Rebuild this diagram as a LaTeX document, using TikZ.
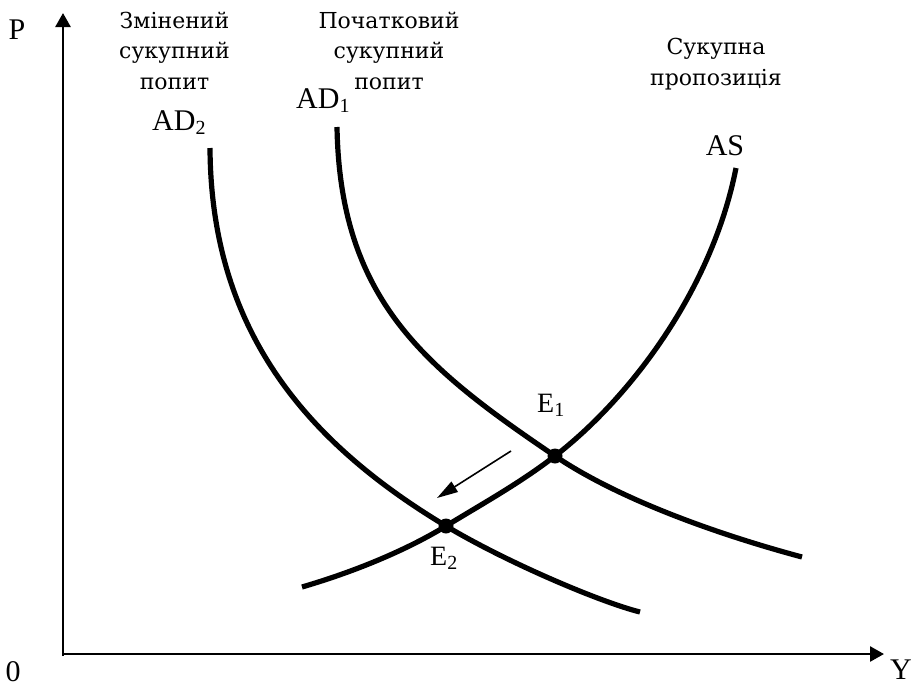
\documentclass[tikz,border=0pt]{standalone}
\usepackage{fontspec}
\setmainfont{Liberation Serif}
\newfontfamily\cyrfont{DejaVu Serif}
\usetikzlibrary{arrows.meta}
\newcommand\lowsub[1]{\raisebox{-4pt}{\fontsize{20}{20}\selectfont #1}}
\begin{document}
\begin{tikzpicture}[x=1pt,y=-1pt,
  axis/.style={line width=2.6pt,-{Triangle[length=14pt,width=15pt]}},
  curve/.style={line width=5.2pt},
  lbl/.style={font=\fontsize{30}{36}\selectfont, inner sep=0pt},
  elbl/.style={font=\fontsize{28}{34}\selectfont, inner sep=0pt},
  cyr/.style={font=\cyrfont\fontsize{22}{30.5}\selectfont, align=center, inner sep=0pt},
  dot/.style={circle, fill=black, minimum size=15pt, inner sep=0pt},
  shiftarrow/.style={line width=1.6pt,-{Triangle[length=21pt,width=12pt]}}]
\useasboundingbox (0,0) rectangle (913,686);
% axes
\coordinate (O) at (63,654);
\coordinate (Ptop) at (63,13);
\coordinate (Yend) at (884,654);
\draw[axis] (63,656) -- (Ptop);
\draw[axis] (O) -- (Yend);
\node[lbl, anchor=base] (Plbl) at (17,39) {P};
\node[lbl, anchor=base] (Ylbl) at (901,679) {Y};
\node[lbl, anchor=base] (Olbl) at (13,681) {0};
% equilibrium points
\coordinate (E1) at (555,456);
\coordinate (E2) at (446,526);
% AD2
\draw[curve] (210,148) .. controls (211,330) and (306,442) .. (E2)
                       .. controls (506,562) and (600,602) .. (640,612);
% AD1
\draw[curve] (337,127) .. controls (340,300) and (425,368) .. (E1)
                       .. controls (620,500) and (720,535) .. (802,557);
% AS
\draw[curve] (302,587) .. controls (360,570) and (410,548) .. (E2)
                       .. controls (482,504) and (520,483) .. (E1)
                       .. controls (630,398) and (712,290) .. (736,168);
% equilibria
\node[dot] (E1pt) at (E1) {};
\node[dot] (E2pt) at (E2) {};
\node[elbl, anchor=base west] (E1lbl) at (537,412) {E\lowsub{1}};
\node[elbl, anchor=base west] (E2lbl) at (430,565) {E\lowsub{2}};
% shift arrow
\coordinate (shA) at (511,451);
\coordinate (shB) at (437,498);
\draw[shiftarrow] (shA) -- (shB);
% curve labels
\node[lbl, anchor=base west] (AD2lbl) at (152,130) {AD\lowsub{2}};
\node[lbl, anchor=base west] (AD1lbl) at (296,108) {AD\lowsub{1}};
\node[lbl, anchor=base] (ASlbl) at (725,155) {AS};
\node[cyr, anchor=base] (t1) at (174.5,89) {Змінений\\сукупний\\попит};
\node[cyr, anchor=base] (t2) at (389,89) {Початковий\\сукупний\\попит};
\node[cyr, anchor=base] (t3) at (716,85) {Сукупна\\пропозиція};
\end{tikzpicture}
\end{document}
